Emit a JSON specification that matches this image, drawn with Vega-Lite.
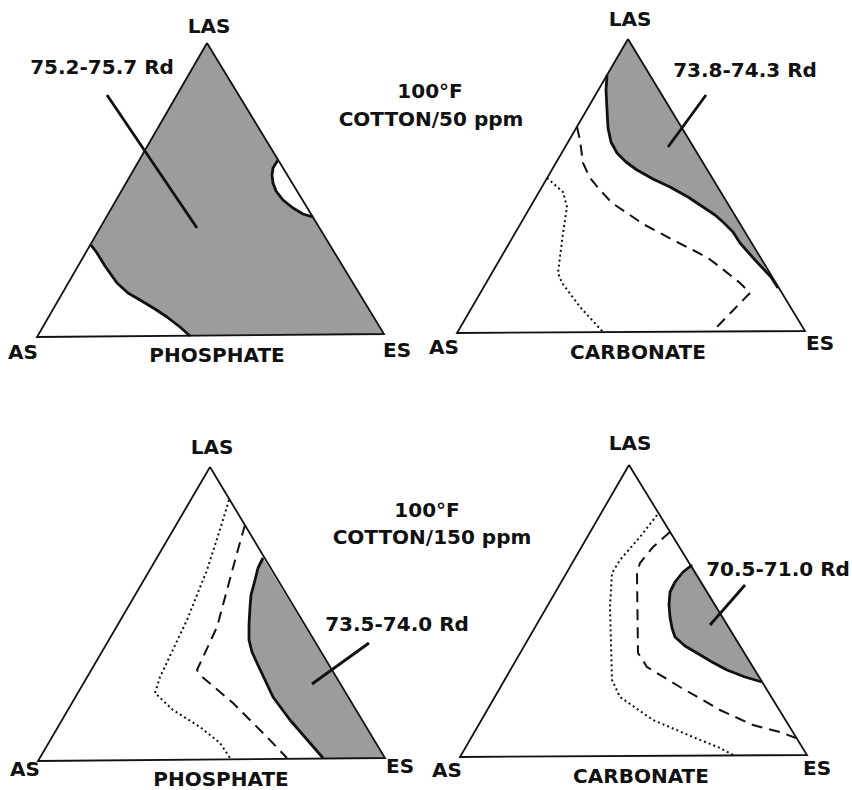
{
  "$schema": "https://vega.github.io/schema/vega-lite/v6.json",
  "width": 852,
  "height": 790,
  "autosize": {"type": "fit", "contains": "padding"},
  "padding": 0,
  "background": "#ffffff",
  "config": {"view": {"stroke": null}},
  "datasets": {
    "poly": [
      {"id": "tl", "i": 0, "x": 207, "y": 43}, {"id": "tl", "i": 1, "x": 91, "y": 245}, {"id": "tl", "i": 2, "x": 97, "y": 253}, {"id": "tl", "i": 3, "x": 105, "y": 266}, {"id": "tl", "i": 4, "x": 117, "y": 283}, {"id": "tl", "i": 5, "x": 128, "y": 293}, {"id": "tl", "i": 6, "x": 140, "y": 300}, {"id": "tl", "i": 7, "x": 155, "y": 309}, {"id": "tl", "i": 8, "x": 167, "y": 317}, {"id": "tl", "i": 9, "x": 180, "y": 327}, {"id": "tl", "i": 10, "x": 190, "y": 336}, {"id": "tl", "i": 11, "x": 384, "y": 334}, {"id": "tl", "i": 12, "x": 313, "y": 217}, {"id": "tl", "i": 13, "x": 303, "y": 214}, {"id": "tl", "i": 14, "x": 293, "y": 208}, {"id": "tl", "i": 15, "x": 283, "y": 200}, {"id": "tl", "i": 16, "x": 276, "y": 191}, {"id": "tl", "i": 17, "x": 273, "y": 183}, {"id": "tl", "i": 18, "x": 272, "y": 175}, {"id": "tl", "i": 19, "x": 273, "y": 168}, {"id": "tl", "i": 20, "x": 278, "y": 160}, {"id": "tl", "i": 21, "x": 207, "y": 43},
      {"id": "tr", "i": 0, "x": 628, "y": 39}, {"id": "tr", "i": 1, "x": 778, "y": 288}, {"id": "tr", "i": 2, "x": 771, "y": 277}, {"id": "tr", "i": 3, "x": 755, "y": 260}, {"id": "tr", "i": 4, "x": 740, "y": 243}, {"id": "tr", "i": 5, "x": 733, "y": 232}, {"id": "tr", "i": 6, "x": 723, "y": 222}, {"id": "tr", "i": 7, "x": 715, "y": 215}, {"id": "tr", "i": 8, "x": 703, "y": 207}, {"id": "tr", "i": 9, "x": 688, "y": 197}, {"id": "tr", "i": 10, "x": 670, "y": 187}, {"id": "tr", "i": 11, "x": 653, "y": 179}, {"id": "tr", "i": 12, "x": 637, "y": 170}, {"id": "tr", "i": 13, "x": 626, "y": 162}, {"id": "tr", "i": 14, "x": 617, "y": 153}, {"id": "tr", "i": 15, "x": 611, "y": 142}, {"id": "tr", "i": 16, "x": 608, "y": 128}, {"id": "tr", "i": 17, "x": 607, "y": 110}, {"id": "tr", "i": 18, "x": 606, "y": 90}, {"id": "tr", "i": 19, "x": 607, "y": 75}, {"id": "tr", "i": 20, "x": 628, "y": 39},
      {"id": "bl", "i": 0, "x": 263, "y": 558}, {"id": "bl", "i": 1, "x": 258, "y": 568}, {"id": "bl", "i": 2, "x": 255, "y": 580}, {"id": "bl", "i": 3, "x": 251, "y": 595}, {"id": "bl", "i": 4, "x": 250, "y": 607}, {"id": "bl", "i": 5, "x": 249, "y": 625}, {"id": "bl", "i": 6, "x": 249, "y": 640}, {"id": "bl", "i": 7, "x": 252, "y": 652}, {"id": "bl", "i": 8, "x": 257, "y": 663}, {"id": "bl", "i": 9, "x": 265, "y": 680}, {"id": "bl", "i": 10, "x": 273, "y": 697}, {"id": "bl", "i": 11, "x": 290, "y": 720}, {"id": "bl", "i": 12, "x": 310, "y": 743}, {"id": "bl", "i": 13, "x": 323, "y": 758}, {"id": "bl", "i": 14, "x": 385, "y": 758}, {"id": "bl", "i": 15, "x": 263, "y": 558},
      {"id": "br", "i": 0, "x": 692, "y": 565}, {"id": "br", "i": 1, "x": 683, "y": 572}, {"id": "br", "i": 2, "x": 675, "y": 582}, {"id": "br", "i": 3, "x": 670, "y": 592}, {"id": "br", "i": 4, "x": 669, "y": 605}, {"id": "br", "i": 5, "x": 670, "y": 617}, {"id": "br", "i": 6, "x": 672, "y": 628}, {"id": "br", "i": 7, "x": 675, "y": 637}, {"id": "br", "i": 8, "x": 685, "y": 646}, {"id": "br", "i": 9, "x": 697, "y": 653}, {"id": "br", "i": 10, "x": 712, "y": 662}, {"id": "br", "i": 11, "x": 727, "y": 670}, {"id": "br", "i": 12, "x": 745, "y": 677}, {"id": "br", "i": 13, "x": 762, "y": 682}, {"id": "br", "i": 14, "x": 692, "y": 565}
    ],
    "lines": [
      {"id": "T1", "s": "tri", "i": 0, "x": 207, "y": 43}, {"id": "T1", "s": "tri", "i": 1, "x": 37, "y": 337}, {"id": "T1", "s": "tri", "i": 2, "x": 384, "y": 334}, {"id": "T1", "s": "tri", "i": 3, "x": 207, "y": 43},
      {"id": "T2", "s": "tri", "i": 0, "x": 628, "y": 39}, {"id": "T2", "s": "tri", "i": 1, "x": 457, "y": 333}, {"id": "T2", "s": "tri", "i": 2, "x": 805, "y": 331}, {"id": "T2", "s": "tri", "i": 3, "x": 628, "y": 39},
      {"id": "T3", "s": "tri", "i": 0, "x": 210, "y": 467}, {"id": "T3", "s": "tri", "i": 1, "x": 38, "y": 761}, {"id": "T3", "s": "tri", "i": 2, "x": 385, "y": 758}, {"id": "T3", "s": "tri", "i": 3, "x": 210, "y": 467},
      {"id": "T4", "s": "tri", "i": 0, "x": 629, "y": 465}, {"id": "T4", "s": "tri", "i": 1, "x": 460, "y": 757}, {"id": "T4", "s": "tri", "i": 2, "x": 807, "y": 755}, {"id": "T4", "s": "tri", "i": 3, "x": 629, "y": 465},
      {"id": "tl_a", "s": "solid", "i": 0, "x": 91, "y": 245}, {"id": "tl_a", "s": "solid", "i": 1, "x": 97, "y": 253}, {"id": "tl_a", "s": "solid", "i": 2, "x": 105, "y": 266}, {"id": "tl_a", "s": "solid", "i": 3, "x": 117, "y": 283}, {"id": "tl_a", "s": "solid", "i": 4, "x": 128, "y": 293}, {"id": "tl_a", "s": "solid", "i": 5, "x": 140, "y": 300}, {"id": "tl_a", "s": "solid", "i": 6, "x": 155, "y": 309}, {"id": "tl_a", "s": "solid", "i": 7, "x": 167, "y": 317}, {"id": "tl_a", "s": "solid", "i": 8, "x": 180, "y": 327}, {"id": "tl_a", "s": "solid", "i": 9, "x": 190, "y": 336},
      {"id": "tl_b", "s": "solid", "i": 0, "x": 313, "y": 217}, {"id": "tl_b", "s": "solid", "i": 1, "x": 303, "y": 214}, {"id": "tl_b", "s": "solid", "i": 2, "x": 293, "y": 208}, {"id": "tl_b", "s": "solid", "i": 3, "x": 283, "y": 200}, {"id": "tl_b", "s": "solid", "i": 4, "x": 276, "y": 191}, {"id": "tl_b", "s": "solid", "i": 5, "x": 273, "y": 183}, {"id": "tl_b", "s": "solid", "i": 6, "x": 272, "y": 175}, {"id": "tl_b", "s": "solid", "i": 7, "x": 273, "y": 168}, {"id": "tl_b", "s": "solid", "i": 8, "x": 278, "y": 160},
      {"id": "tr_s", "s": "solid", "i": 0, "x": 607, "y": 75}, {"id": "tr_s", "s": "solid", "i": 1, "x": 606, "y": 90}, {"id": "tr_s", "s": "solid", "i": 2, "x": 607, "y": 110}, {"id": "tr_s", "s": "solid", "i": 3, "x": 608, "y": 128}, {"id": "tr_s", "s": "solid", "i": 4, "x": 611, "y": 142}, {"id": "tr_s", "s": "solid", "i": 5, "x": 617, "y": 153}, {"id": "tr_s", "s": "solid", "i": 6, "x": 626, "y": 162}, {"id": "tr_s", "s": "solid", "i": 7, "x": 637, "y": 170}, {"id": "tr_s", "s": "solid", "i": 8, "x": 653, "y": 179}, {"id": "tr_s", "s": "solid", "i": 9, "x": 670, "y": 187}, {"id": "tr_s", "s": "solid", "i": 10, "x": 688, "y": 197}, {"id": "tr_s", "s": "solid", "i": 11, "x": 703, "y": 207}, {"id": "tr_s", "s": "solid", "i": 12, "x": 715, "y": 215}, {"id": "tr_s", "s": "solid", "i": 13, "x": 723, "y": 222}, {"id": "tr_s", "s": "solid", "i": 14, "x": 733, "y": 232}, {"id": "tr_s", "s": "solid", "i": 15, "x": 740, "y": 243}, {"id": "tr_s", "s": "solid", "i": 16, "x": 755, "y": 260}, {"id": "tr_s", "s": "solid", "i": 17, "x": 771, "y": 277}, {"id": "tr_s", "s": "solid", "i": 18, "x": 778, "y": 288},
      {"id": "bl_s", "s": "solid", "i": 0, "x": 263, "y": 558}, {"id": "bl_s", "s": "solid", "i": 1, "x": 258, "y": 568}, {"id": "bl_s", "s": "solid", "i": 2, "x": 255, "y": 580}, {"id": "bl_s", "s": "solid", "i": 3, "x": 251, "y": 595}, {"id": "bl_s", "s": "solid", "i": 4, "x": 250, "y": 607}, {"id": "bl_s", "s": "solid", "i": 5, "x": 249, "y": 625}, {"id": "bl_s", "s": "solid", "i": 6, "x": 249, "y": 640}, {"id": "bl_s", "s": "solid", "i": 7, "x": 252, "y": 652}, {"id": "bl_s", "s": "solid", "i": 8, "x": 257, "y": 663}, {"id": "bl_s", "s": "solid", "i": 9, "x": 265, "y": 680}, {"id": "bl_s", "s": "solid", "i": 10, "x": 273, "y": 697}, {"id": "bl_s", "s": "solid", "i": 11, "x": 290, "y": 720}, {"id": "bl_s", "s": "solid", "i": 12, "x": 310, "y": 743}, {"id": "bl_s", "s": "solid", "i": 13, "x": 323, "y": 758},
      {"id": "br_s", "s": "solid", "i": 0, "x": 692, "y": 565}, {"id": "br_s", "s": "solid", "i": 1, "x": 683, "y": 572}, {"id": "br_s", "s": "solid", "i": 2, "x": 675, "y": 582}, {"id": "br_s", "s": "solid", "i": 3, "x": 670, "y": 592}, {"id": "br_s", "s": "solid", "i": 4, "x": 669, "y": 605}, {"id": "br_s", "s": "solid", "i": 5, "x": 670, "y": 617}, {"id": "br_s", "s": "solid", "i": 6, "x": 672, "y": 628}, {"id": "br_s", "s": "solid", "i": 7, "x": 675, "y": 637}, {"id": "br_s", "s": "solid", "i": 8, "x": 685, "y": 646}, {"id": "br_s", "s": "solid", "i": 9, "x": 697, "y": 653}, {"id": "br_s", "s": "solid", "i": 10, "x": 712, "y": 662}, {"id": "br_s", "s": "solid", "i": 11, "x": 727, "y": 670}, {"id": "br_s", "s": "solid", "i": 12, "x": 745, "y": 677}, {"id": "br_s", "s": "solid", "i": 13, "x": 762, "y": 682},
      {"id": "p_tl", "s": "solid", "i": 0, "x": 107, "y": 95}, {"id": "p_tl", "s": "solid", "i": 1, "x": 197, "y": 228},
      {"id": "p_tr", "s": "solid", "i": 0, "x": 706, "y": 95}, {"id": "p_tr", "s": "solid", "i": 1, "x": 668, "y": 147},
      {"id": "p_bl", "s": "solid", "i": 0, "x": 369, "y": 643}, {"id": "p_bl", "s": "solid", "i": 1, "x": 312, "y": 684},
      {"id": "p_br", "s": "solid", "i": 0, "x": 745, "y": 585}, {"id": "p_br", "s": "solid", "i": 1, "x": 710, "y": 625},
      {"id": "tr_d", "s": "dash", "i": 0, "x": 577, "y": 127}, {"id": "tr_d", "s": "dash", "i": 1, "x": 580, "y": 140}, {"id": "tr_d", "s": "dash", "i": 2, "x": 583, "y": 163}, {"id": "tr_d", "s": "dash", "i": 3, "x": 590, "y": 178}, {"id": "tr_d", "s": "dash", "i": 4, "x": 600, "y": 190}, {"id": "tr_d", "s": "dash", "i": 5, "x": 612, "y": 203}, {"id": "tr_d", "s": "dash", "i": 6, "x": 627, "y": 213}, {"id": "tr_d", "s": "dash", "i": 7, "x": 643, "y": 224}, {"id": "tr_d", "s": "dash", "i": 8, "x": 660, "y": 233}, {"id": "tr_d", "s": "dash", "i": 9, "x": 677, "y": 242}, {"id": "tr_d", "s": "dash", "i": 10, "x": 693, "y": 250}, {"id": "tr_d", "s": "dash", "i": 11, "x": 708, "y": 258}, {"id": "tr_d", "s": "dash", "i": 12, "x": 720, "y": 267}, {"id": "tr_d", "s": "dash", "i": 13, "x": 740, "y": 283}, {"id": "tr_d", "s": "dash", "i": 14, "x": 750, "y": 293}, {"id": "tr_d", "s": "dash", "i": 15, "x": 713, "y": 331},
      {"id": "bl_d", "s": "dash", "i": 0, "x": 245, "y": 525}, {"id": "bl_d", "s": "dash", "i": 1, "x": 237, "y": 553}, {"id": "bl_d", "s": "dash", "i": 2, "x": 217, "y": 627}, {"id": "bl_d", "s": "dash", "i": 3, "x": 197, "y": 670}, {"id": "bl_d", "s": "dash", "i": 4, "x": 200, "y": 675}, {"id": "bl_d", "s": "dash", "i": 5, "x": 233, "y": 703}, {"id": "bl_d", "s": "dash", "i": 6, "x": 267, "y": 737}, {"id": "bl_d", "s": "dash", "i": 7, "x": 287, "y": 758},
      {"id": "br_d", "s": "dash", "i": 0, "x": 670, "y": 532}, {"id": "br_d", "s": "dash", "i": 1, "x": 653, "y": 547}, {"id": "br_d", "s": "dash", "i": 2, "x": 640, "y": 563}, {"id": "br_d", "s": "dash", "i": 3, "x": 637, "y": 573}, {"id": "br_d", "s": "dash", "i": 4, "x": 638, "y": 653}, {"id": "br_d", "s": "dash", "i": 5, "x": 647, "y": 667}, {"id": "br_d", "s": "dash", "i": 6, "x": 680, "y": 687}, {"id": "br_d", "s": "dash", "i": 7, "x": 720, "y": 710}, {"id": "br_d", "s": "dash", "i": 8, "x": 753, "y": 725}, {"id": "br_d", "s": "dash", "i": 9, "x": 780, "y": 732}, {"id": "br_d", "s": "dash", "i": 10, "x": 796, "y": 738},
      {"id": "tr_o", "s": "dot", "i": 0, "x": 547, "y": 178}, {"id": "tr_o", "s": "dot", "i": 1, "x": 563, "y": 192}, {"id": "tr_o", "s": "dot", "i": 2, "x": 567, "y": 207}, {"id": "tr_o", "s": "dot", "i": 3, "x": 563, "y": 233}, {"id": "tr_o", "s": "dot", "i": 4, "x": 558, "y": 273}, {"id": "tr_o", "s": "dot", "i": 5, "x": 562, "y": 283}, {"id": "tr_o", "s": "dot", "i": 6, "x": 580, "y": 307}, {"id": "tr_o", "s": "dot", "i": 7, "x": 603, "y": 332},
      {"id": "bl_o", "s": "dot", "i": 0, "x": 229, "y": 500}, {"id": "bl_o", "s": "dot", "i": 1, "x": 223, "y": 520}, {"id": "bl_o", "s": "dot", "i": 2, "x": 207, "y": 570}, {"id": "bl_o", "s": "dot", "i": 3, "x": 187, "y": 620}, {"id": "bl_o", "s": "dot", "i": 4, "x": 160, "y": 677}, {"id": "bl_o", "s": "dot", "i": 5, "x": 155, "y": 693}, {"id": "bl_o", "s": "dot", "i": 6, "x": 173, "y": 710}, {"id": "bl_o", "s": "dot", "i": 7, "x": 200, "y": 727}, {"id": "bl_o", "s": "dot", "i": 8, "x": 220, "y": 743}, {"id": "bl_o", "s": "dot", "i": 9, "x": 230, "y": 758},
      {"id": "br_o", "s": "dot", "i": 0, "x": 657, "y": 515}, {"id": "br_o", "s": "dot", "i": 1, "x": 640, "y": 537}, {"id": "br_o", "s": "dot", "i": 2, "x": 620, "y": 560}, {"id": "br_o", "s": "dot", "i": 3, "x": 612, "y": 573}, {"id": "br_o", "s": "dot", "i": 4, "x": 610, "y": 607}, {"id": "br_o", "s": "dot", "i": 5, "x": 612, "y": 680}, {"id": "br_o", "s": "dot", "i": 6, "x": 620, "y": 697}, {"id": "br_o", "s": "dot", "i": 7, "x": 653, "y": 720}, {"id": "br_o", "s": "dot", "i": 8, "x": 693, "y": 737}, {"id": "br_o", "s": "dot", "i": 9, "x": 720, "y": 748}, {"id": "br_o", "s": "dot", "i": 10, "x": 735, "y": 756}
    ],
    "labels": [
      {"t": "LAS", "x": 209, "y": 27}, {"t": "AS", "x": 23, "y": 353}, {"t": "ES", "x": 397, "y": 351}, {"t": "PHOSPHATE", "x": 217, "y": 356}, {"t": "75.2-75.7 Rd", "x": 102, "y": 68},
      {"t": "LAS", "x": 630, "y": 20}, {"t": "AS", "x": 444, "y": 348}, {"t": "ES", "x": 820, "y": 344}, {"t": "CARBONATE", "x": 638, "y": 353}, {"t": "73.8-74.3 Rd", "x": 745, "y": 71},
      {"t": "100°F", "x": 430, "y": 92}, {"t": "COTTON/50 ppm", "x": 431, "y": 120},
      {"t": "LAS", "x": 212, "y": 448}, {"t": "AS", "x": 25, "y": 770}, {"t": "ES", "x": 400, "y": 767}, {"t": "PHOSPHATE", "x": 221, "y": 780}, {"t": "73.5-74.0 Rd", "x": 397, "y": 625},
      {"t": "LAS", "x": 630, "y": 444}, {"t": "AS", "x": 447, "y": 771}, {"t": "ES", "x": 817, "y": 769}, {"t": "CARBONATE", "x": 641, "y": 777}, {"t": "70.5-71.0 Rd", "x": 778, "y": 570},
      {"t": "100°F", "x": 427, "y": 511}, {"t": "COTTON/150 ppm", "x": 432, "y": 538}
    ]
  },
  "encoding": {
    "x": {"field": "x", "type": "quantitative", "scale": {"domain": [0, 852], "nice": false, "zero": false}, "axis": null},
    "y": {"field": "y", "type": "quantitative", "scale": {"domain": [790, 0], "nice": false, "zero": false}, "axis": null}
  },
  "layer": [
    {
      "data": {"name": "poly"},
      "mark": {"type": "line", "fill": "#9c9c9c", "stroke": null, "strokeWidth": 0},
      "encoding": {"detail": {"field": "id"}, "order": {"field": "i", "type": "quantitative"}}
    },
    {
      "data": {"name": "lines"},
      "transform": [{"filter": "datum.s == 'tri'"}],
      "mark": {"type": "line", "color": "#111111", "strokeWidth": 1.8, "strokeJoin": "miter"},
      "encoding": {"detail": {"field": "id"}, "order": {"field": "i", "type": "quantitative"}}
    },
    {
      "data": {"name": "lines"},
      "transform": [{"filter": "datum.s == 'solid'"}],
      "mark": {"type": "line", "color": "#111111", "strokeWidth": 2.8, "strokeJoin": "round", "strokeCap": "butt"},
      "encoding": {"detail": {"field": "id"}, "order": {"field": "i", "type": "quantitative"}}
    },
    {
      "data": {"name": "lines"},
      "transform": [{"filter": "datum.s == 'dash'"}],
      "mark": {"type": "line", "color": "#111111", "strokeWidth": 2, "strokeDash": [11, 7]},
      "encoding": {"detail": {"field": "id"}, "order": {"field": "i", "type": "quantitative"}}
    },
    {
      "data": {"name": "lines"},
      "transform": [{"filter": "datum.s == 'dot'"}],
      "mark": {"type": "line", "color": "#111111", "strokeWidth": 2, "strokeDash": [2, 3]},
      "encoding": {"detail": {"field": "id"}, "order": {"field": "i", "type": "quantitative"}}
    },
    {
      "data": {"name": "labels"},
      "mark": {"type": "text", "font": "DejaVu Sans", "fontWeight": "bold", "fontSize": 20, "color": "#111111", "align": "center", "baseline": "middle"},
      "encoding": {"text": {"field": "t"}}
    }
  ]
}
